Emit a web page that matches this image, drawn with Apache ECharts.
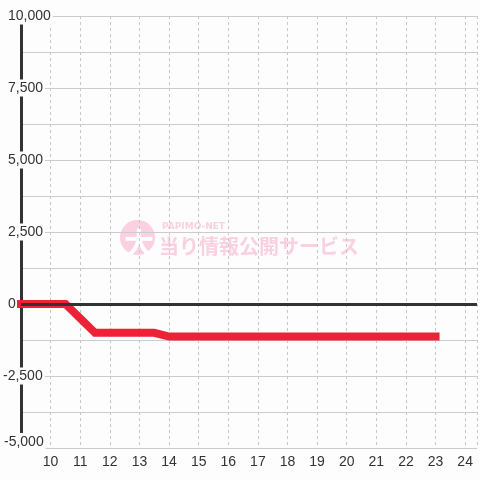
<!DOCTYPE html>
<html>
<head>
<meta charset="utf-8">
<script src="https://cdn.jsdelivr.net/npm/echarts@6/dist/echarts.min.js"></script>
<style>html,body{margin:0;padding:0;background:#fdfdfd;}#c{width:480px;height:480px;}</style>
</head>
<body>
<div id="c"></div>
<script>
// data
var hours = [9, 10, 10.5, 11, 11.5, 12, 13, 13.5, 14, 15, 16, 17, 18, 19, 20, 21, 22, 23];
var balance = [0, 0, 0, -500, -1000, -1000, -1000, -1000, -1130, -1130, -1130, -1130, -1130, -1130, -1130, -1130, -1130, -1130];
var xTickLabels = [10, 11, 12, 13, 14, 15, 16, 17, 18, 19, 20, 21, 22, 23, 24];
var yTickValues = [-5000, -2500, 0, 2500, 5000, 7500, 10000];

var chart = echarts.init(document.getElementById('c'), null, {renderer: 'canvas'});
var pts = hours.map(function (h, i) { return [h, balance[i]]; });

function fmtNum(v) {
  var s = Math.abs(v).toString().replace(/\B(?=(\d{3})+(?!\d))/g, ',');
  return (v < 0 ? '-' : '') + s;
}

var labelBg = '#fdfdfd';
var font = 'Liberation Sans, Arial, sans-serif';
var option = {
  backgroundColor: '#fdfdfd',
  animation: false,
  grid: {left: 20, top: 16, width: 462, height: 432, containLabel: false},
  xAxis: {
    type: 'value', min: 9, max: 24.4, interval: 1,
    axisLine: {show: false}, axisTick: {show: false},
    axisLabel: {
      margin: 7, fontSize: 14, color: '#333', fontFamily: font,
      formatter: function (v) { return xTickLabels.indexOf(v) >= 0 ? String(v) : ''; }
    },
    splitLine: {show: true, lineStyle: {color: '#c8c8c8', width: 1, type: [3, 3]}}
  },
  yAxis: {
    type: 'value', min: yTickValues[0], max: yTickValues[yTickValues.length - 1], interval: 2500,
    axisLine: {show: true, onZero: false, lineStyle: {color: '#333', width: 3}},
    axisTick: {show: false},
    minorTick: {show: false, splitNumber: 2},
    minorSplitLine: {show: true, lineStyle: {color: '#cccccc', width: 1}},
    splitLine: {show: true, lineStyle: {color: '#cccccc', width: 1}},
    axisLabel: {
      align: 'left', margin: 18,
      formatter: function (v) {
        if (v === yTickValues[0]) return '{m|' + fmtNum(v) + '}';
        return (v < 0 ? '{n|' : '{p|') + fmtNum(v) + '}';
      },
      rich: {
        p: {fontSize: 14, lineHeight: 14, color: '#333', fontFamily: font, backgroundColor: labelBg, padding: [2, 2, 1, 5]},
        n: {fontSize: 14, lineHeight: 14, color: '#333', fontFamily: font, backgroundColor: labelBg, padding: [2, 2, 1, 0]},
        m: {fontSize: 14, lineHeight: 14, color: '#333', fontFamily: font, backgroundColor: labelBg, padding: [2, 2, 14, 1]}
      }
    }
  },
  graphic: [{
    type: 'group', z: -1, silent: true,
    children: [
      {type: 'circle', shape: {cx: 137.5, cy: 237.5, r: 17.5}, style: {fill: '#fbd0e1'}},
      {type: 'text', x: 139, y: 243, style: {text: '大', fill: '#ffffff', font: 'bold 30px "Noto Sans CJK JP"', align: 'center', verticalAlign: 'middle'}},
      {type: 'text', x: 162, y: 226.5, style: {text: 'PAPIMO-NET', fill: '#fbd0e1', font: 'bold 9px "DejaVu Sans"', align: 'left', verticalAlign: 'middle'}},
      {type: 'text', x: 159, y: 246, style: {text: '当り情報公開サービス', fill: '#fbd0e1', font: 'bold 20px "Noto Sans CJK JP"', align: 'left', verticalAlign: 'middle'}}
    ]
  }],
  series: [
    {
      type: 'line', z: 1, data: [], silent: true,
      markLine: {silent: true, symbol: 'none', label: {show: false},
        lineStyle: {color: '#333', width: 3, type: 'solid'},
        data: [{yAxis: 0}]}
    },
    {
      type: 'line', z: 3, data: pts, showSymbol: false, clip: false, silent: true,
      lineStyle: {color: '#ee2236', width: 8, cap: 'square', join: 'miter'},
      itemStyle: {color: '#ee2236'}
    }
  ]
};
chart.setOption(option);
</script>
</body>
</html>
